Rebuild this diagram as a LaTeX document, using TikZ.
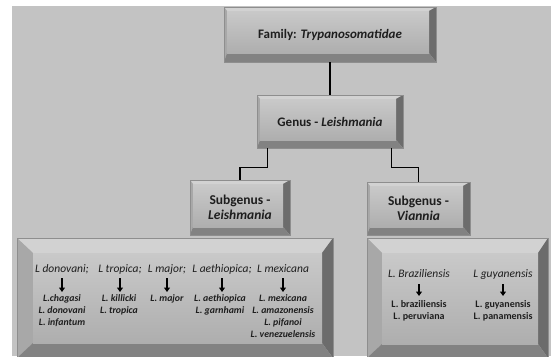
\documentclass[tikz,border=0pt]{standalone}
\usepackage{fontspec}
\setmainfont{Carlito}
\usetikzlibrary{arrows.meta}
\definecolor{bgc}{HTML}{C3C3C3}
\definecolor{bvtop}{HTML}{D2D2D2}
\definecolor{bvleft}{HTML}{A8A8A8}
\definecolor{bvright}{HTML}{6C6C6C}
\definecolor{bvbot}{HTML}{828282}
\definecolor{facetop}{HTML}{C9C9C9}
\definecolor{facebot}{HTML}{AEAEAE}
\definecolor{edgec}{HTML}{8E8E8E}
\definecolor{txt}{HTML}{1E1E1E}
\newcommand\bevshape[8]{%
 \fill[bvtop] (#1,#2) -- (#3,#2) -- ({#3-#7},{#2+#6}) -- ({#1+#5},{#2+#6}) -- cycle;
 \fill[bvleft] (#1,#2) -- ({#1+#5},{#2+#6}) -- ({#1+#5},{#4-#8}) -- (#1,#4) -- cycle;
 \fill[bvright] (#3,#2) -- (#3,#4) -- ({#3-#7},{#4-#8}) -- ({#3-#7},{#2+#6}) -- cycle;
 \fill[bvbot] (#1,#4) -- (#3,#4) -- ({#3-#7},{#4-#8}) -- ({#1+#5},{#4-#8}) -- cycle;
 \shade[top color=facetop, bottom color=facebot] ({#1+#5},{#2+#6}) rectangle ({#3-#7},{#4-#8});
 \draw[edgec, line width=0.4pt] (#1,#2) rectangle (#3,#4);
}
\begin{document}
\begin{tikzpicture}[x=1pt,y=-1pt,
  ttl/.style={inner sep=0pt, align=center, text=txt, font=\fontsize{13}{15}\selectfont\bfseries},
  hdr/.style={inner sep=0pt, text height=8pt, text depth=2.5pt, text=txt, font=\fontsize{11.5}{13}\selectfont\itshape},
  spl/.style={inner sep=0pt, anchor=north, align=center, text=txt, font=\fontsize{9.8}{12.2}\selectfont\bfseries\itshape},
  spr/.style={inner sep=0pt, anchor=north, align=center, text=txt, font=\fontsize{10}{11.8}\selectfont\bfseries},
  conn/.style={draw=black, line width=1.2pt},
  arr/.style={draw=black, line width=1.8pt, -{Triangle[length=4.5pt,width=6pt]}}]
\useasboundingbox (0,0) rectangle (551,356);
\fill[white] (0,0) rectangle (551,356);
\fill[bgc] (12,6) rectangle (551,356);
% boxes
\bevshape{224}{7}{436}{62}{3}{4}{7}{9}
\bevshape{257}{95}{403}{148}{3}{4}{7}{8}
\bevshape{190}{180}{290}{235}{3}{4}{7}{8}
\bevshape{367}{182}{470}{235}{3}{4}{7}{8}
\bevshape{17}{238}{333}{358}{16}{15}{11}{15}
\bevshape{367}{238}{548}{358}{15}{15}{10}{14}
% title nodes
\node[ttl, minimum width=212pt, minimum height=55pt] (fam) at (330,34.5) {Family: \textit{Trypanosomatidae}};
\node[ttl, minimum width=146pt, minimum height=53pt] (gen) at (330,121.5) {Genus - \textit{Leishmania}};
\node[ttl, minimum width=100pt, minimum height=55pt, font=\fontsize{13.5}{14.5}\selectfont\bfseries] (subL) at (240,207.5) {Subgenus -\\\textit{Leishmania}};
\node[ttl, minimum width=103pt, minimum height=53pt, font=\fontsize{13.5}{14.5}\selectfont\bfseries] (subV) at (418.5,208.5) {Subgenus -\\\textit{Viannia}};
% connectors
\draw[conn] (fam.south) -- (gen.north);
\draw[conn] ([xshift=11pt]gen.south west) -- ++(0,19) -| (subL.north);
\draw[conn] ([xshift=-12pt]gen.south east) -- ++(0,19) -| (subV.north);
% left box contents
\node[hdr] (h1) at (62,270) {L donovani;};
\node[hdr] (h2) at (120,270) {L tropica;};
\node[hdr] (h3) at (167,270) {L major;};
\node[hdr] (h4) at (222,270) {L aethiopica;};
\node[hdr] (h5) at (283,270) {L mexicana};
\node[spl] (s1) at (62,294) {L.chagasi\\L. donovani\\L. infantum};
\node[spl] (s2) at (119,294) {L. killicki\\L. tropica};
\node[spl] (s3) at (167,294) {L. major};
\node[spl] (s4) at (220,294) {L. aethiopica\\L. garnhami};
\node[spl] (s5) at (283,294) {L. mexicana\\L. amazonensis\\L. pifanoi\\L. venezuelensis};
\foreach \i in {1,...,5}{\draw[arr, shorten <=3pt, shorten >=2pt] (h\i.south) -- (h\i.south |- s\i.north);}
% right box contents
\node[hdr] (h6) at (419,275) {L. Braziliensis};
\node[hdr] (h7) at (503,275) {L guyanensis};
\node[spr] (s6) at (419,300) {L. braziliensis\\L. peruviana};
\node[spr] (s7) at (503,300) {L. guyanensis\\L. panamensis};
\foreach \i in {6,7}{\draw[arr, shorten <=4pt, shorten >=4pt] (h\i.south) -- (h\i.south |- s\i.north);}
\end{tikzpicture}
\end{document}
